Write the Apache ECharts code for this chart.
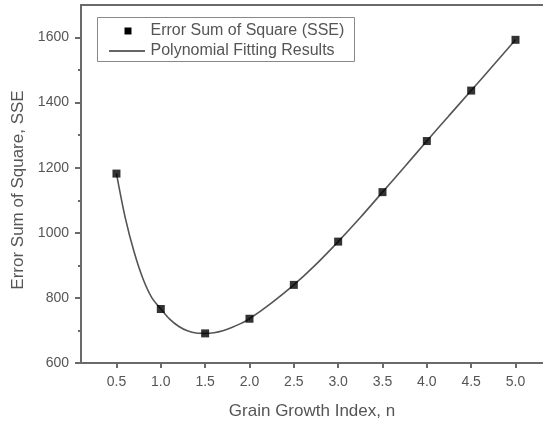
<!DOCTYPE html>
<html>
<head>
<meta charset="utf-8">
<script src="https://cdn.jsdelivr.net/npm/echarts@6/dist/echarts.min.js"></script>
<style>
html,body{margin:0;padding:0;background:#fff;}
#chart{width:543px;height:421px;}
</style>
</head>
<body>
<div id="chart"></div>
<script>
// Measured SSE values at each grain growth index
var sseX = [0.5, 1.0, 1.5, 2.0, 2.5, 3.0, 3.5, 4.0, 4.5, 5.0];
var sseY = [1182, 766, 691, 736, 840, 973, 1125, 1282, 1437, 1593];

// Polynomial fitting curve
var fitX = [0.5, 0.6, 0.7, 0.8, 0.9, 1.0, 1.1, 1.2, 1.3, 1.4, 1.5, 1.6, 1.7, 1.8, 1.9, 2.0,
            2.25, 2.5, 2.75, 3.0, 3.25, 3.5, 3.75, 4.0, 4.25, 4.5, 4.75, 5.0];
var fitY = [1182, 1045, 940, 858, 800, 766, 735, 713, 699, 692, 691, 693, 699, 709, 721, 736,
            785, 840, 903, 973, 1047, 1125, 1203, 1282, 1360, 1437, 1515, 1593];

// Tick labels
var xTicks = [0.5, 1.0, 1.5, 2.0, 2.5, 3.0, 3.5, 4.0, 4.5, 5.0];
var yTicks = [600, 800, 1000, 1200, 1400, 1600];
var yMinorTicks = [700, 900, 1100, 1300, 1500];

var seriesNames = ['Error Sum of Square (SSE)', 'Polynomial Fitting Results'];
var xTitle = 'Grain Growth Index, n';
var yTitle = 'Error Sum of Square, SSE';

var FONT = '"Liberation Sans", Arial, sans-serif';
var AXIS = '#6a6a6a';
var TXT = '#555';
var XMIN = 0.1, XMAX = 5.31;

var chart = echarts.init(document.getElementById('chart'));
chart.setOption({
  animation: false,
  backgroundColor: '#fff',
  grid: {left: 81, top: 5, right: 0, bottom: 58, show: false, containLabel: false, outerBoundsMode: 'none'},
  xAxis: [{
    type: 'value', min: XMIN, max: XMAX,
    name: xTitle, nameLocation: 'middle', nameGap: 40,
    nameTextStyle: {fontFamily: FONT, fontSize: 17, color: TXT},
    axisLine: {show: true, onZero: false, lineStyle: {color: AXIS, width: 2}},
    axisTick: {show: true, inside: false, length: 5, customValues: xTicks, lineStyle: {color: AXIS, width: 2}},
    axisLabel: {customValues: xTicks, margin: 12, fontFamily: FONT, fontSize: 14, color: TXT,
      formatter: function (v) { return v.toFixed(1); }},
    splitLine: {show: false}
  }, {
    type: 'value', min: XMIN, max: XMAX, position: 'top',
    axisLine: {show: true, onZero: false, lineStyle: {color: AXIS, width: 2}},
    axisTick: {show: false}, axisLabel: {show: false}, splitLine: {show: false}
  }],
  yAxis: [{
    type: 'value', min: 600, max: 1700,
    name: yTitle, nameLocation: 'middle', nameGap: 51, nameRotate: 90,
    nameTextStyle: {fontFamily: FONT, fontSize: 17, color: TXT, padding: [0, 12, 0, 0]},
    axisLine: {show: true, onZero: false, lineStyle: {color: AXIS, width: 2}},
    axisTick: {show: true, inside: false, length: 6, customValues: yTicks, lineStyle: {color: AXIS, width: 2}},
    axisLabel: {customValues: yTicks, margin: 12, fontFamily: FONT, fontSize: 14, color: TXT,
      formatter: function (v) { return String(v); }},
    splitLine: {show: false}
  }, {
    type: 'value', min: 600, max: 1700, position: 'left',
    axisLine: {show: false},
    axisTick: {show: true, inside: false, length: 3, customValues: yMinorTicks, lineStyle: {color: AXIS, width: 2}},
    axisLabel: {show: false},
    splitLine: {show: false}
  }],
  series: [{
    name: seriesNames[1], type: 'line', smooth: 0.3, symbol: 'none',
    lineStyle: {color: '#555', width: 1.6},
    data: fitX.map(function (x, i) { return [x, fitY[i]]; }),
    z: 2
  }, {
    name: seriesNames[0], type: 'scatter', symbol: 'rect', symbolSize: 8,
    itemStyle: {color: '#000'},
    data: sseX.map(function (x, i) { return [x, sseY[i]]; }),
    z: 3
  }],
  graphic: [
    {type: 'rect', shape: {x: 97.5, y: 17.5, width: 257, height: 44}, style: {fill: '#fff', stroke: '#888', lineWidth: 1}, z: 10},
    {type: 'rect', shape: {x: 124.5, y: 27.5, width: 7, height: 7}, style: {fill: '#000'}, z: 11},
    {type: 'line', shape: {x1: 109, y1: 51, x2: 145, y2: 51}, style: {stroke: '#333', lineWidth: 1.5}, z: 11},
    {type: 'text', x: 150.5, y: 31, style: {text: seriesNames[0], fontFamily: FONT, fontSize: 16, fill: TXT, verticalAlign: 'middle'}, z: 11},
    {type: 'text', x: 150.5, y: 51, style: {text: seriesNames[1], fontFamily: FONT, fontSize: 16, fill: TXT, verticalAlign: 'middle'}, z: 11}
  ]
});
</script>
</body>
</html>
